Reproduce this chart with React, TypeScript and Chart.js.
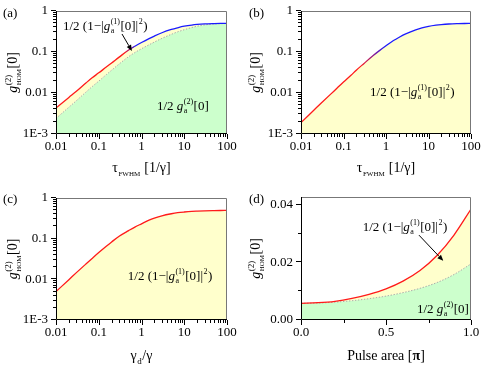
import React, { useEffect, useRef } from 'react';
import { Chart, registerables } from 'chart.js';

Chart.register(...registerables);

// ---------- data ----------
const TAU = [0.01, 0.02, 0.03, 0.05, 0.07, 0.1, 0.15, 0.2, 0.3, 0.5, 0.7, 1, 1.5, 2, 3, 5, 7, 10, 15, 20, 30, 50, 70, 100];
const A_UPPER = [0.0043, 0.0078, 0.011, 0.0175, 0.0235, 0.031, 0.043, 0.054, 0.075, 0.112, 0.138, 0.17, 0.212, 0.245, 0.295, 0.355, 0.39, 0.425, 0.455, 0.47, 0.484, 0.493, 0.497, 0.499];
const A_LOWER = [0.0024, 0.0045, 0.0065, 0.0105, 0.0143, 0.0195, 0.028, 0.036, 0.051, 0.077, 0.097, 0.12, 0.15, 0.175, 0.215, 0.27, 0.31, 0.35, 0.395, 0.425, 0.458, 0.482, 0.491, 0.496];
const B_UPPER = [0.0019, 0.0038, 0.0057, 0.0094, 0.013, 0.0185, 0.027, 0.036, 0.052, 0.082, 0.108, 0.142, 0.19, 0.226, 0.28, 0.345, 0.385, 0.42, 0.45, 0.466, 0.482, 0.492, 0.496, 0.498];
const GAMMA_RATIO = [0.01, 0.02, 0.03, 0.05, 0.07, 0.1, 0.15, 0.2, 0.3, 0.5, 0.7, 1, 1.5, 2, 3, 5, 7, 10, 15, 20, 30, 50, 70, 100];
const C_UPPER = [0.005, 0.0098, 0.0146, 0.0238, 0.0327, 0.0455, 0.065, 0.083, 0.115, 0.158, 0.193, 0.232, 0.285, 0.32, 0.365, 0.41, 0.435, 0.453, 0.469, 0.476, 0.484, 0.49, 0.493, 0.495];
const PULSE_AREA = [0, 0.1, 0.2, 0.3, 0.4, 0.5, 0.6, 0.7, 0.8, 0.9, 1.0];
const D_UPPER = [0.0058, 0.006, 0.0065, 0.0075, 0.0089, 0.0108, 0.0135, 0.0172, 0.0224, 0.0295, 0.0385];
const D_LOWER = [0.0058, 0.0059, 0.0062, 0.0067, 0.0074, 0.0083, 0.0095, 0.011, 0.013, 0.0158, 0.0195];

const LOG_X_TICKS = [0.01, 0.1, 1, 10, 100];
const LOG_X_LABELS = ['0.01', '0.1', '1', '10', '100'];
const LOG_Y_TICKS = [0.001, 0.01, 0.1, 1];
const LOG_Y_LABELS = ['1E-3', '0.01', '0.1', '1'];
const LIN_X_TICKS = [0, 0.5, 1];
const LIN_X_LABELS = ['0.0', '0.5', '1.0'];
const LIN_X_MINOR = [0.25, 0.75];
const LIN_Y_TICKS = [0, 0.02, 0.04];
const LIN_Y_LABELS = ['0.00', '0.02', '0.04'];
const LIN_Y_MINOR = [0.01, 0.03];

// ---------- styling ----------
const W = 242;
const H = 183;
const FAM = '"Liberation Serif", "DejaVu Serif", serif';
const RED = '#ff1a1a';
const BLUE = '#1a1aff';
const GREEN_FILL = '#ccffcc';
const YELLOW_FILL = '#ffffcc';

type Seg = { t?: string; it?: boolean; b?: boolean; sup?: string; sub?: string; ss?: number };

const HOM_TITLE: Seg[] = [{ t: 'g', it: true }, { sup: '(2)', sub: 'HOM', ss: 7 }, { t: '[0]' }];
const G1_TEXT: Seg[] = [{ t: '1/2 (1\u2212|' }, { t: 'g', it: true }, { sup: '(1)', sub: 'a' }, { t: '[0]|' }, { sup: '2' }, { t: ')' }];
const G2_TEXT: Seg[] = [{ t: '1/2 ' }, { t: 'g', it: true }, { sup: '(2)', sub: 'a' }, { t: '[0]' }];
const TAU_TITLE: Seg[] = [{ t: '\u03c4' }, { sub: 'FWHM', ss: 7 }, { t: ' [1/\u03b3]' }];
const GAMMA_TITLE: Seg[] = [{ t: '\u03b3' }, { sub: 'd', ss: 9 }, { t: '/\u03b3' }];
const PULSE_TITLE: Seg[] = [{ t: 'Pulse area [' }, { t: '\u03c0', b: true }, { t: ']' }];

function fontOf(s: Seg, size: number) {
  return `${s.it ? 'italic ' : ''}${s.b ? 'bold ' : ''}${size}px ${FAM}`;
}

function drawRich(ctx: CanvasRenderingContext2D, segs: Seg[], x: number, y: number, size: number, align: 'left' | 'center') {
  ctx.textAlign = 'left';
  ctx.textBaseline = 'alphabetic';
  const widths = segs.map((s) => {
    if (s.t !== undefined) {
      ctx.font = fontOf(s, size);
      return ctx.measureText(s.t).width;
    }
    ctx.font = `${Math.round(size * 0.62)}px ${FAM}`;
    const wsup = s.sup ? ctx.measureText(s.sup).width : 0;
    ctx.font = `${s.ss ?? Math.round(size * 0.62)}px ${FAM}`;
    const wsub = s.sub ? ctx.measureText(s.sub).width : 0;
    return Math.max(wsup, wsub) + 1;
  });
  const total = widths.reduce((a, b) => a + b, 0);
  let cx = align === 'center' ? x - total / 2 : x;
  segs.forEach((s, i) => {
    if (s.t !== undefined) {
      ctx.font = fontOf(s, size);
      ctx.fillText(s.t, cx, y);
    } else {
      if (s.sup) {
        ctx.font = `${Math.round(size * 0.62)}px ${FAM}`;
        ctx.fillText(s.sup, cx + 0.5, y - size * 0.45);
      }
      if (s.sub) {
        ctx.font = `${s.ss ?? Math.round(size * 0.62)}px ${FAM}`;
        ctx.fillText(s.sub, cx + 0.5, y + size * 0.25);
      }
    }
    cx += widths[i];
  });
}

type Area = { l: number; t: number; r: number; b: number };
type Note = { segs: Seg[]; fx: number; fy: number };
type Arrow = { fx1: number; fy1: number; fx2: number; fy2: number };

type PanelCfg = {
  label: string;
  labelX: number;
  labelY: number;
  area: Area;
  xLog: boolean;
  yLog: boolean;
  xMin: number;
  xMax: number;
  yMin: number;
  yMax: number;
  xTicks: number[];
  xLabels: string[];
  yTicks: number[];
  yLabels: string[];
  xMinor: number[];
  yMinor: number[];
  xs: number[];
  upper: number[];
  lower?: number[];
  gradient?: [number, number];
  xTitle: Seg[];
  xTitleY: number;
  yTitleX: number;
  notes: Note[];
  arrows: Arrow[];
};

function logMinors(majors: number[]) {
  const out: number[] = [];
  for (let i = 0; i < majors.length - 1; i++) {
    for (let k = 2; k <= 9; k++) out.push(majors[i] * k);
  }
  return out;
}

const PANELS: { cfg: PanelCfg; left: number; top: number }[] = [
  {
    left: 0,
    top: 0,
    cfg: {
      label: '(a)', labelX: 3, labelY: 17,
      area: { l: 56, t: 11, r: 227, b: 134 },
      xLog: true, yLog: true, xMin: 0.01, xMax: 100, yMin: 0.001, yMax: 1,
      xTicks: LOG_X_TICKS, xLabels: LOG_X_LABELS, yTicks: LOG_Y_TICKS, yLabels: LOG_Y_LABELS,
      xMinor: logMinors(LOG_X_TICKS), yMinor: logMinors(LOG_Y_TICKS),
      xs: TAU, upper: A_UPPER, lower: A_LOWER, gradient: [0.4, 0.75],
      xTitle: TAU_TITLE, xTitleY: 172, yTitleX: 17,
      notes: [{ segs: G1_TEXT, fx: 0.041, fy: 0.154 }, { segs: G2_TEXT, fx: 0.59, fy: 0.805 }],
      arrows: [{ fx1: 0.386, fy1: 0.187, fx2: 0.444, fy2: 0.325 }],
    },
  },
  {
    left: 242,
    top: 0,
    cfg: {
      label: '(b)', labelX: 7, labelY: 17,
      area: { l: 59, t: 11, r: 229, b: 134 },
      xLog: true, yLog: true, xMin: 0.01, xMax: 100, yMin: 0.001, yMax: 1,
      xTicks: LOG_X_TICKS, xLabels: LOG_X_LABELS, yTicks: LOG_Y_TICKS, yLabels: LOG_Y_LABELS,
      xMinor: logMinors(LOG_X_TICKS), yMinor: logMinors(LOG_Y_TICKS),
      xs: TAU, upper: B_UPPER, gradient: [0.25, 1.0],
      xTitle: TAU_TITLE, xTitleY: 172, yTitleX: 18,
      notes: [{ segs: G1_TEXT, fx: 0.406, fy: 0.69 }],
      arrows: [],
    },
  },
  {
    left: 0,
    top: 183,
    cfg: {
      label: '(c)', labelX: 3, labelY: 20,
      area: { l: 56, t: 15, r: 227, b: 137 },
      xLog: true, yLog: true, xMin: 0.01, xMax: 100, yMin: 0.001, yMax: 1,
      xTicks: LOG_X_TICKS, xLabels: LOG_X_LABELS, yTicks: LOG_Y_TICKS, yLabels: LOG_Y_LABELS,
      xMinor: logMinors(LOG_X_TICKS), yMinor: logMinors(LOG_Y_TICKS),
      xs: GAMMA_RATIO, upper: C_UPPER,
      xTitle: GAMMA_TITLE, xTitleY: 177, yTitleX: 17,
      notes: [{ segs: G1_TEXT, fx: 0.42, fy: 0.674 }],
      arrows: [],
    },
  },
  {
    left: 242,
    top: 183,
    cfg: {
      label: '(d)', labelX: 7, labelY: 20,
      area: { l: 59, t: 14, r: 229, b: 137 },
      xLog: false, yLog: false, xMin: 0, xMax: 1, yMin: 0, yMax: 0.0427,
      xTicks: LIN_X_TICKS, xLabels: LIN_X_LABELS, yTicks: LIN_Y_TICKS, yLabels: LIN_Y_LABELS,
      xMinor: LIN_X_MINOR, yMinor: LIN_Y_MINOR,
      xs: PULSE_AREA, upper: D_UPPER, lower: D_LOWER,
      xTitle: PULSE_TITLE, xTitleY: 177, yTitleX: 18,
      notes: [{ segs: G1_TEXT, fx: 0.363, fy: 0.277 }, { segs: G2_TEXT, fx: 0.682, fy: 0.945 }],
      arrows: [{ fx1: 0.694, fy1: 0.31, fx2: 0.837, fy2: 0.519 }],
    },
  },
];

function makeChart(canvas: HTMLCanvasElement, cfg: PanelCfg) {
  const { area } = cfg;
  const datasets: any[] = [];
  const upperColor = cfg.gradient
    ? (ctx: any) => {
        const chart = ctx.chart;
        if (!chart.chartArea || !chart.scales.x) return RED;
        const xs = chart.scales.x;
        const p0 = xs.getPixelForValue(cfg.gradient![0]);
        const p1 = xs.getPixelForValue(cfg.gradient![1]);
        const g = chart.ctx.createLinearGradient(p0, 0, p1, 0);
        g.addColorStop(0, RED);
        g.addColorStop(1, BLUE);
        return g;
      }
    : RED;
  datasets.push({
    data: cfg.xs.map((x, i) => ({ x, y: cfg.upper[i] })),
    borderColor: upperColor,
    borderWidth: 1.3,
    backgroundColor: YELLOW_FILL,
    fill: cfg.lower ? '+1' : 'start',
    pointRadius: 0,
    cubicInterpolationMode: 'monotone',
  });
  if (cfg.lower) {
    datasets.push({
      data: cfg.xs.map((x, i) => ({ x, y: cfg.lower![i] })),
      borderColor: '#9a9a9a',
      borderWidth: 0.8,
      borderDash: [1.5, 1.5],
      backgroundColor: GREEN_FILL,
      fill: 'start',
      pointRadius: 0,
      cubicInterpolationMode: 'monotone',
    });
  }

  const decor = {
    id: 'decor',
    afterDraw(chart: any) {
      const ctx: CanvasRenderingContext2D = chart.ctx;
      const { left, right, top, bottom } = chart.chartArea;
      const xs = chart.scales.x;
      const ys = chart.scales.y;
      ctx.save();
      // frame
      ctx.lineWidth = 1;
      ctx.strokeStyle = '#777';
      ctx.beginPath();
      ctx.moveTo(left, top + 0.5);
      ctx.lineTo(right - 0.5, top + 0.5);
      ctx.lineTo(right - 0.5, bottom);
      ctx.stroke();
      ctx.strokeStyle = '#000';
      ctx.beginPath();
      ctx.moveTo(left + 0.5, top);
      ctx.lineTo(left + 0.5, bottom - 0.5);
      ctx.lineTo(right, bottom - 0.5);
      ctx.stroke();
      // ticks
      ctx.beginPath();
      const tickX = (v: number, len: number) => {
        const px = Math.round(xs.getPixelForValue(v)) + 0.5;
        ctx.moveTo(px, bottom);
        ctx.lineTo(px, bottom + len);
      };
      const tickY = (v: number, len: number) => {
        const py = Math.round(ys.getPixelForValue(v)) - 0.5;
        ctx.moveTo(left, py);
        ctx.lineTo(left - len, py);
      };
      cfg.xTicks.forEach((v) => tickX(v, 5));
      cfg.xMinor.forEach((v) => tickX(v, 3));
      cfg.yTicks.forEach((v) => tickY(v, 5));
      cfg.yMinor.forEach((v) => tickY(v, 3));
      ctx.stroke();

      ctx.fillStyle = '#000';
      // panel label
      ctx.font = `13px ${FAM}`;
      ctx.textAlign = 'left';
      ctx.textBaseline = 'alphabetic';
      ctx.fillText(cfg.label, cfg.labelX, cfg.labelY);
      // x title
      drawRich(ctx, cfg.xTitle, (left + right) / 2, cfg.xTitleY, 14, 'center');
      // y title
      ctx.save();
      ctx.translate(cfg.yTitleX, (top + bottom) / 2);
      ctx.rotate(-Math.PI / 2);
      drawRich(ctx, HOM_TITLE, 0, 0, 14, 'center');
      ctx.restore();
      // notes
      const fx = (f: number) => left + f * (right - left);
      const fy = (f: number) => top + f * (bottom - top);
      cfg.notes.forEach((n) => drawRich(ctx, n.segs, fx(n.fx), fy(n.fy), 13, 'left'));
      // arrows
      cfg.arrows.forEach((a) => {
        const x1 = fx(a.fx1), y1 = fy(a.fy1), x2 = fx(a.fx2), y2 = fy(a.fy2);
        const ang = Math.atan2(y2 - y1, x2 - x1);
        const hl = 6, hw = 2.5;
        const bx = x2 - hl * Math.cos(ang), by = y2 - hl * Math.sin(ang);
        ctx.strokeStyle = '#000';
        ctx.lineWidth = 1;
        ctx.beginPath();
        ctx.moveTo(x1, y1);
        ctx.lineTo(bx, by);
        ctx.stroke();
        ctx.beginPath();
        ctx.moveTo(x2, y2);
        ctx.lineTo(bx + hw * Math.sin(ang), by - hw * Math.cos(ang));
        ctx.lineTo(bx - hw * Math.sin(ang), by + hw * Math.cos(ang));
        ctx.closePath();
        ctx.fill();
      });
      ctx.restore();
    },
  };

  return new Chart(canvas, {
    type: 'line',
    data: { datasets },
    options: {
      animation: false,
      responsive: false,
      devicePixelRatio: 1,
      events: [],
      layout: { padding: { left: 0, top: area.t, right: W - area.r, bottom: 0 } },
      plugins: {
        legend: { display: false },
        tooltip: { enabled: false },
        filler: { drawTime: 'beforeDatasetsDraw' },
      } as any,
      elements: { point: { radius: 0 } },
      scales: {
        x: {
          type: cfg.xLog ? 'logarithmic' : 'linear',
          min: cfg.xMin,
          max: cfg.xMax,
          grid: { display: false, drawTicks: false },
          border: { display: false },
          ticks: {
            color: '#000',
            font: { family: FAM, size: 13 },
            padding: 5,
            maxRotation: 0,
            autoSkip: false,
            callback: (_v: any, i: number) => cfg.xLabels[i],
          },
          afterBuildTicks: (s: any) => {
            s.ticks = cfg.xTicks.map((v) => ({ value: v }));
          },
          afterFit: (s: any) => {
            s.height = H - area.b;
            s.paddingLeft = 0;
            s.paddingRight = 0;
          },
        } as any,
        y: {
          type: cfg.yLog ? 'logarithmic' : 'linear',
          min: cfg.yMin,
          max: cfg.yMax,
          grid: { display: false, drawTicks: false },
          border: { display: false },
          ticks: {
            color: '#000',
            font: { family: FAM, size: 13 },
            padding: 8,
            autoSkip: false,
            callback: (_v: any, i: number) => cfg.yLabels[i],
          },
          afterBuildTicks: (s: any) => {
            s.ticks = cfg.yTicks.map((v) => ({ value: v }));
          },
          afterFit: (s: any) => {
            s.width = area.l;
            s.paddingTop = 0;
            s.paddingBottom = 0;
          },
        } as any,
      },
    },
    plugins: [decor],
  });
}

function Panel({ cfg, left, top }: { cfg: PanelCfg; left: number; top: number }) {
  const ref = useRef<HTMLCanvasElement>(null);
  useEffect(() => {
    const chart = makeChart(ref.current!, cfg);
    return () => chart.destroy();
  }, [cfg]);
  return (
    <canvas
      ref={ref}
      width={W}
      height={H}
      style={{ position: 'absolute', left, top, width: W, height: H, display: 'block' }}
    />
  );
}

export default function App() {
  return (
    <div style={{ position: 'absolute', left: 0, top: 0, width: 484, height: 366, background: '#fff' }}>
      {PANELS.map((p, i) => (
        <Panel key={i} cfg={p.cfg} left={p.left} top={p.top} />
      ))}
    </div>
  );
}
